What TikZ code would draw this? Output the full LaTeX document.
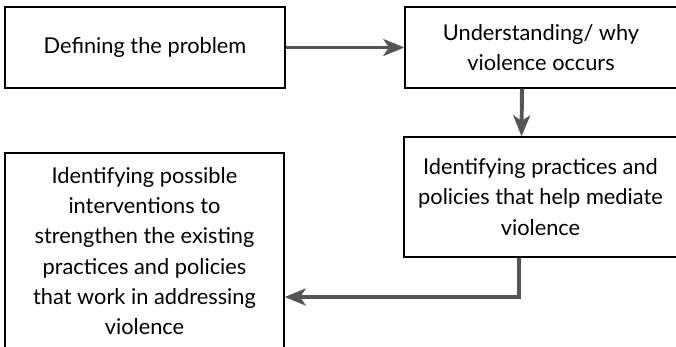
\documentclass[tikz,border=0pt]{standalone}
\usepackage{fontspec}
\setmainfont{Lato}
\usetikzlibrary{arrows.meta}
\definecolor{flowgray}{HTML}{555555}
\begin{document}
\begin{tikzpicture}[x=0.025cm, y=-0.025cm, line width=0.8pt,
  box/.style={draw=black, line width=0.8pt, align=center, inner sep=0pt, font=\fontsize{15.5}{21.5}\selectfont},
  flow/.style={draw=flowgray, line width=2.8pt, -{Stealth[length=15pt,width=12pt,inset=4pt]}}]
		\useasboundingbox (0,0) rectangle (676,347);
		\node[box, minimum width=7cm, minimum height=2.025cm] (defprob) at (145,47.5) {Defining the problem};
		\node[box, minimum width=6.8cm, minimum height=2.025cm] (underst) at (541,47.5) {Understanding/ why\\violence occurs};
		\node[box, minimum width=6.825cm, minimum height=3cm] (practices) at (540.5,197) {Identifying practices and\\policies that help mediate\\violence};
		\node[box, minimum width=6.975cm, minimum height=4.9cm] (interv) at (144.5,251) {Identifying possible\\interventions to\\strengthen the existing\\practices and policies\\that work in addressing\\violence};
		\draw[flow] (defprob.east) -- (underst.west);
		\draw[flow] ([xshift=-0.475cm]underst.south) -- ([xshift=-0.475cm]practices.north);
		\draw[flow] ([xshift=-0.54cm]practices.south) |- ([yshift=-1.15cm]interv.east);
		\end{tikzpicture}
\end{document}
